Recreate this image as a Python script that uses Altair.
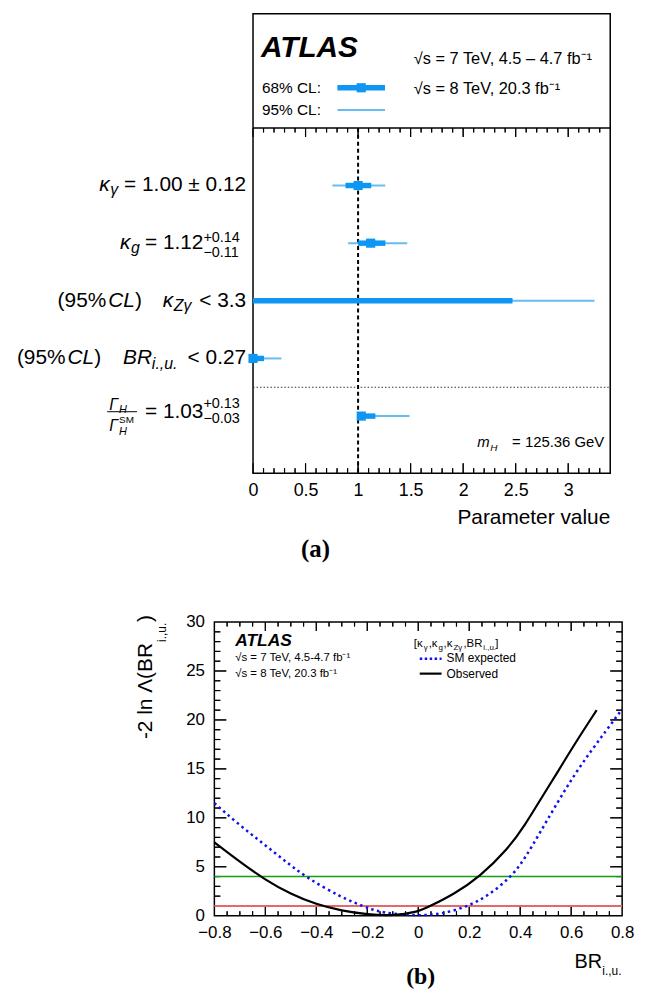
import altair as alt
import pandas as pd

SANS = "Liberation Sans"
SERIF = "Liberation Serif"
C68 = "#0d96f2"
C95 = "#66bdf5"

# ---------------- panel (a): coupling-fit summary ----------------
param_names = ["kappa_gamma", "kappa_g", "kappa_Zgamma", "BR_iu", "Gamma_H_ratio"]
row_index = [0, 1, 2, 3, 4]
best_fit = [1.00, 1.12, 1.235, 0.00, 1.03]
lo68 = [0.88, 1.00, 0.00, 0.00, 1.00]
hi68 = [1.125, 1.26, 2.47, 0.105, 1.165]
lo95 = [0.755, 0.905, 0.00, 0.00, 1.00]
hi95 = [1.258, 1.468, 3.25, 0.27, 1.49]
show_marker = [True, True, False, True, True]
sm_reference = [1.0]
separator_rows = [3.5]
frame_a_range = [0.0, 3.4]
ticks_a_major = [0, 0.5, 1, 1.5, 2, 2.5, 3]
ticks_a_minor = [round(0.1 * i, 1) for i in range(1, 34) if i % 5]

# ---------------- panel (b): likelihood scan of BR_i.,u. ----------------
br_obs = [-0.80, -0.70, -0.60, -0.50, -0.40, -0.30, -0.20, -0.095, 0.00, 0.04, 0.14, 0.24,
          0.35, 0.42, 0.48, 0.55, 0.61, 0.70]
nll_obs = [7.5, 5.5, 3.65, 2.2, 1.15, 0.5, 0.12, 0.0, 0.4, 0.9, 2.2, 3.95,
           6.75, 9.3, 11.9, 14.8, 17.4, 21.0]
br_exp = [-0.80, -0.71, -0.62, -0.53, -0.44, -0.30, -0.21, -0.167, -0.10, 0.00, 0.093, 0.19,
          0.27, 0.365, 0.42, 0.48, 0.547, 0.61, 0.677, 0.74, 0.80]
nll_exp = [11.5, 9.45, 7.6, 5.75, 3.9, 1.85, 0.91, 0.5, 0.18, 0.0, 0.17, 0.91,
           1.95, 3.95, 5.9, 8.6, 11.6, 14.3, 16.8, 19.0, 21.1]
threshold_levels = [1, 4]
ticks_bx_major = [-0.6, -0.4, -0.2, 0, 0.2, 0.4, 0.6]
ticks_bx_minor = [round(-0.8 + 0.05 * i, 2) for i in range(1, 32) if i % 4]
ticks_by_major = [5, 10, 15, 20, 25]
ticks_by_minor = [i for i in range(1, 30) if i % 5]
labels_bx = [-0.8, -0.6, -0.4, -0.2, 0, 0.2, 0.4, 0.6, 0.8]
labels_by = [0, 5, 10, 15, 20, 25, 30]

one = pd.DataFrame({"k": [0]})


def T(x, y, s, size, style="normal", weight="normal", align="left", font=SANS,
      baseline="alphabetic", angle=None):
    kw = dict(text=s, fontSize=size, fontStyle=style, fontWeight=weight, align=align,
              baseline=baseline, font=font, color="black")
    if angle is not None:
        kw["angle"] = angle
    return alt.Chart(one).mark_text(**kw).encode(x=alt.value(x), y=alt.value(y))


def R(x1, x2, y, color, width, dash=None):
    kw = dict(color=color, strokeWidth=width)
    if dash:
        kw["strokeDash"] = dash
    return alt.Chart(one).mark_rule(**kw).encode(x=alt.value(x1), x2=alt.value(x2), y=alt.value(y))


def V(x, y1, y2):
    return alt.Chart(one).mark_rule(color="black", strokeWidth=1).encode(
        x=alt.value(x), y=alt.value(y1), y2=alt.value(y2))


def xtick_layer(values, xs, y1, y2):
    # thin rect marks at the tick values, placed by the x scale
    return alt.Chart(pd.DataFrame({"tickpos": values})).mark_rect(
        color="black", opacity=1, width=1.2).encode(
        x=alt.X("tickpos:Q", scale=xs, axis=None), y=alt.value(y1), y2=alt.value(y2))


def ytick_layer(values, ys, x1, x2):
    return alt.Chart(pd.DataFrame({"tickpos": values})).mark_rect(
        color="black", opacity=1, height=1.2).encode(
        y=alt.Y("tickpos:Q", scale=ys, axis=None), x=alt.value(x1), x2=alt.value(x2))


# ======================= panel (a) =======================
DX = 39                     # frame starts 39 px right of the view origin
W_A, H_A = 399, 463
SEP_A = 115
PX_A = 106.0
XD_A = [-DX / PX_A, 3.4]
YD_A = [-2.978, 4.991]
xs_a = alt.Scale(domain=XD_A, nice=False, zero=False)
ys_a = alt.Scale(domain=YD_A, reverse=True, nice=False, zero=False)


def pxa(v):  # same linear mapping as xs_a
    return (v - XD_A[0]) * W_A / (XD_A[1] - XD_A[0])


df_a = pd.DataFrame(dict(param=param_names, row=row_index, best=best_fit, lo68=lo68,
                         hi68=hi68, lo95=lo95, hi95=hi95, marker=show_marker))
row_enc = alt.Y("row:Q", scale=ys_a, axis=None)

label_axis_a = alt.Axis(orient="bottom", values=ticks_a_major, format="~g", labelFontSize=18,
                        labelPadding=8, labelColor="black", labelFont=SANS, ticks=False,
                        domain=False, grid=False, title=None, labelFlush=False)

layers_a = [
    alt.Chart(pd.DataFrame({"x": [0.0, 3.4], "y": [0.0, 0.0]})).mark_point(opacity=0).encode(
        x=alt.X("x:Q", scale=xs_a, axis=label_axis_a), y=alt.Y("y:Q", scale=ys_a, axis=None)),
    alt.Chart(pd.DataFrame({"x0": [frame_a_range[0]], "x1": [frame_a_range[1]]})).mark_rect(
        fillOpacity=0, stroke="black", strokeWidth=1.5).encode(
        x=alt.X("x0:Q", scale=xs_a, axis=None), x2="x1:Q",
        y=alt.value(0), y2=alt.value(H_A)),
    xtick_layer(ticks_a_major, xs_a, H_A - 10, H_A),
    xtick_layer(ticks_a_minor, xs_a, H_A - 5, H_A),
    xtick_layer(ticks_a_major, xs_a, SEP_A, SEP_A + 9),
    xtick_layer(ticks_a_minor, xs_a, SEP_A, SEP_A + 4.5),
]
layers_a += [V(pxa(v), H_A - 10, H_A) for v in ticks_a_major if v > 0]
layers_a += [V(pxa(v), H_A - 5, H_A) for v in ticks_a_minor]
layers_a += [V(pxa(v), SEP_A, SEP_A + 9) for v in ticks_a_major if v > 0]
layers_a += [V(pxa(v), SEP_A, SEP_A + 4.5) for v in ticks_a_minor]
layers_a += [
    R(DX, W_A, SEP_A, "black", 1.5),
    alt.Chart(pd.DataFrame({"r": separator_rows})).mark_rule(
        color="#333333", strokeWidth=1, strokeDash=[1.5, 2]).encode(
        y=alt.Y("r:Q", scale=ys_a, axis=None), x=alt.value(DX), x2=alt.value(W_A)),
    alt.Chart(pd.DataFrame({"v": sm_reference})).mark_rule(
        color="black", strokeWidth=2, strokeDash=[4, 3]).encode(
        x=alt.X("v:Q", scale=xs_a, axis=None), y=alt.value(SEP_A), y2=alt.value(H_A)),
    alt.Chart(df_a).mark_rule(color=C95, strokeWidth=2).encode(
        x=alt.X("lo95:Q", scale=xs_a, axis=None), x2="hi95:Q", y=row_enc),
    alt.Chart(df_a).mark_rule(color=C68, strokeWidth=5.5).encode(
        x=alt.X("lo68:Q", scale=xs_a, axis=None), x2="hi68:Q", y=row_enc),
    alt.Chart(df_a).transform_filter("datum.marker").mark_square(
        size=85, color=C68, filled=True, opacity=1).encode(
        x=alt.X("best:Q", scale=xs_a, axis=None), y=row_enc),
    # legend box
    T(DX + 8, 43, "ATLAS", 30, "italic", "bold"),
    T(DX + 9, 80, "68% CL:", 15.5),
    T(DX + 9, 102, "95% CL:", 15.5),
    R(DX + 85, DX + 133, 74.5, C68, 5.5),
    alt.Chart(one).mark_square(size=85, color=C68, filled=True, opacity=1).encode(
        x=alt.value(DX + 109), y=alt.value(74.5)),
    R(DX + 85, DX + 133, 97, C95, 2),
    T(DX + 162, 51, "√s = 7 TeV, 4.5 – 4.7 fb⁻¹", 16.5),
    T(DX + 162, 81, "√s = 8 TeV, 20.3 fb⁻¹", 16.5),
    # row labels
    T(DX - 155, 179, "κ", 21, "italic"), T(DX - 144, 183, "γ", 16, "italic"),
    T(DX - 7, 179, "= 1.00 ± 0.12", 21, align="right"),
    T(DX - 134, 237, "κ", 21, "italic"), T(DX - 123, 241, "g", 16, "italic"),
    T(DX - 50, 237, "= 1.12", 21, align="right"),
    T(DX - 50, 230, "+0.14", 14.5), T(DX - 50, 245, "−0.11", 14.5),
    T(DX - 197, 295, "(95%", 21), T(DX - 146, 295, "CL", 21, "italic"), T(DX - 119, 295, ")", 21),
    T(DX - 91, 295, "κ", 21, "italic"), T(DX - 80, 300, "Zγ", 16, "italic"),
    T(DX - 7, 295, "< 3.3", 21, align="right"),
    T(DX - 238, 353, "(95%", 21), T(DX - 187, 353, "CL", 21, "italic"), T(DX - 160, 353, ")", 21),
    T(DX - 131, 353, "BR", 21, "italic"), T(DX - 102, 358, "i.,u.", 16, "italic"),
    T(DX - 7, 353, "< 0.27", 21, align="right"),
    T(DX - 145, 399, "Γ", 16, "italic"), T(DX - 135, 402, "H", 11, "italic"),
    R(DX - 147, DX - 117, 401, "black", 1),
    T(DX - 145, 420, "Γ", 16, "italic"), T(DX - 135, 412, "SM", 10),
    T(DX - 135, 424, "H", 11, "italic"),
    T(DX - 50, 407, "= 1.03", 21, align="right"),
    T(DX - 50, 397, "+0.13", 14.5), T(DX - 50, 412, "−0.03", 14.5),
    # inside annotations
    T(DX + 226, 437, "m", 15, "italic"), T(DX + 239, 441, "H", 10, "italic"),
    T(DX + 354, 437, "= 125.36 GeV", 15, align="right"),
    T(W_A, 514, "Parameter value", 21, align="right"),
    T(DX + 63, 547, "(a)", 25, weight="bold", font=SERIF, align="center"),
    R(-206, -200, 555, "white", 1),
]
top = alt.layer(*layers_a).resolve_axis(x="independent", y="independent").properties(
    width=W_A, height=H_A, view=alt.ViewBackground(stroke="transparent"))

# ======================= panel (b) =======================
W_B, H_B = 411, 296
XD_B = [-0.8, 0.8]
YD_B = [0.0, 30.0]
xs_b = alt.Scale(domain=XD_B, nice=False, zero=False)
ys_b = alt.Scale(domain=YD_B, nice=False, zero=False)


def pxb(v):  # same linear mapping as xs_b
    return (v - XD_B[0]) * W_B / (XD_B[1] - XD_B[0])


def pyb(v):  # same linear mapping as ys_b
    return H_B - (v - YD_B[0]) * H_B / (YD_B[1] - YD_B[0])


df_obs = pd.DataFrame({"br": br_obs, "nll": nll_obs})
df_exp = pd.DataFrame({"br": br_exp, "nll": nll_exp})
df_thr = pd.DataFrame({"level": threshold_levels})

label_axis_bx = alt.Axis(orient="bottom", values=labels_bx, format="~g", labelFontSize=17,
                         labelPadding=9, labelColor="black", labelFont=SANS, ticks=False,
                         domain=False, grid=False, title=None, labelFlush=False)
label_axis_by = alt.Axis(orient="left", values=labels_by, labelFontSize=17,
                         labelPadding=10, labelColor="black", labelFont=SANS, ticks=False,
                         domain=False, grid=False, title=None, labelFlush=False)

layers_b = [
    alt.Chart(pd.DataFrame({"x": XD_B, "y": YD_B})).mark_point(opacity=0).encode(
        x=alt.X("x:Q", scale=xs_b, axis=label_axis_bx),
        y=alt.Y("y:Q", scale=ys_b, axis=label_axis_by)),
    xtick_layer(ticks_bx_major, xs_b, H_B - 9, H_B),
    xtick_layer(ticks_bx_minor, xs_b, H_B - 4.5, H_B),
    xtick_layer(ticks_bx_major, xs_b, 0, 9),
    xtick_layer(ticks_bx_minor, xs_b, 0, 4.5),
    ytick_layer(ticks_by_major, ys_b, 0, 12),
    ytick_layer(ticks_by_minor, ys_b, 0, 6),
    ytick_layer(ticks_by_major, ys_b, W_B - 12, W_B),
    ytick_layer(ticks_by_minor, ys_b, W_B - 6, W_B),
]
layers_b += [V(pxb(v), H_B - 9, H_B) for v in ticks_bx_major]
layers_b += [V(pxb(v), H_B - 4.5, H_B) for v in ticks_bx_minor]
layers_b += [V(pxb(v), 0, 9) for v in ticks_bx_major]
layers_b += [V(pxb(v), 0, 4.5) for v in ticks_bx_minor]
layers_b += [R(0, 12, pyb(v), "black", 1) for v in ticks_by_major]
layers_b += [R(0, 6, pyb(v), "black", 1) for v in ticks_by_minor]
layers_b += [R(W_B - 12, W_B, pyb(v), "black", 1) for v in ticks_by_major]
layers_b += [R(W_B - 6, W_B, pyb(v), "black", 1) for v in ticks_by_minor]
layers_b += [
    alt.Chart(df_thr).transform_filter("datum.level == 4").mark_rule(
        color="#12a012", strokeWidth=1.4).encode(y=alt.Y("level:Q", scale=ys_b, axis=None)),
    alt.Chart(df_thr).transform_filter("datum.level == 1").mark_rule(
        color="#e46a6a", strokeWidth=2).encode(y=alt.Y("level:Q", scale=ys_b, axis=None)),
    alt.Chart(df_exp).mark_line(color="#1010ee", strokeWidth=2.5, strokeDash=[2.5, 3.5],
                                interpolate="basis").encode(
        x=alt.X("br:Q", scale=xs_b, axis=None), y=alt.Y("nll:Q", scale=ys_b, axis=None)),
    alt.Chart(df_obs).mark_line(color="black", strokeWidth=2.2, interpolate="basis").encode(
        x=alt.X("br:Q", scale=xs_b, axis=None), y=alt.Y("nll:Q", scale=ys_b, axis=None)),
    # legend
    T(21, 24, "ATLAS", 17.5, "italic", "bold"),
    T(21, 39, "√s = 7 TeV, 4.5-4.7 fb⁻¹", 11.5),
    T(21, 55, "√s = 8 TeV, 20.3 fb⁻¹", 11.5),
    T(201, 25, "[κ", 11.5), T(211, 28, "γ", 8), T(216, 25, ",κ", 11.5), T(226, 28, "g", 8),
    T(231, 25, ",κ", 11.5), T(241, 28, "Zγ", 8), T(251, 25, ",BR", 11.5),
    T(271, 28, "i.,u.", 8), T(283, 25, "]", 11.5),
    R(207, 229, 37, "#1010ee", 2.5, [2.5, 2.5]),
    R(207, 229, 52, "black", 2.2),
    T(234, 40, "SM expected", 12),
    T(234, 56, "Observed", 12),
    # axis titles
    T(-69, 118, "-2 ln Λ(BR", 21, baseline="middle", angle=270),
    T(-53, 20, "i.,u.", 12, baseline="middle", angle=270),
    T(-69, 0, ")", 21, baseline="middle", angle=270),
    T(363, 349, "BR", 20), T(391, 356, "i.,u.", 12),
    T(208, 365, "(b)", 24, weight="bold", font=SERIF, align="center"),
    R(-206, -200, -30, "white", 1),
]
bottom = alt.layer(*layers_b).resolve_axis(x="independent", y="independent").properties(
    width=W_B, height=H_B)

chart = alt.vconcat(top, bottom, spacing=24).properties(
    padding={"left": 0, "top": 0, "right": 5, "bottom": 0},
    background="white",
).configure_view(stroke="black", strokeWidth=1.5).configure_axis(
    grid=False, labelFont=SANS, labelColor="black"
)

chart.save("out.html", embed_options={"renderer": "svg", "actions": False})
